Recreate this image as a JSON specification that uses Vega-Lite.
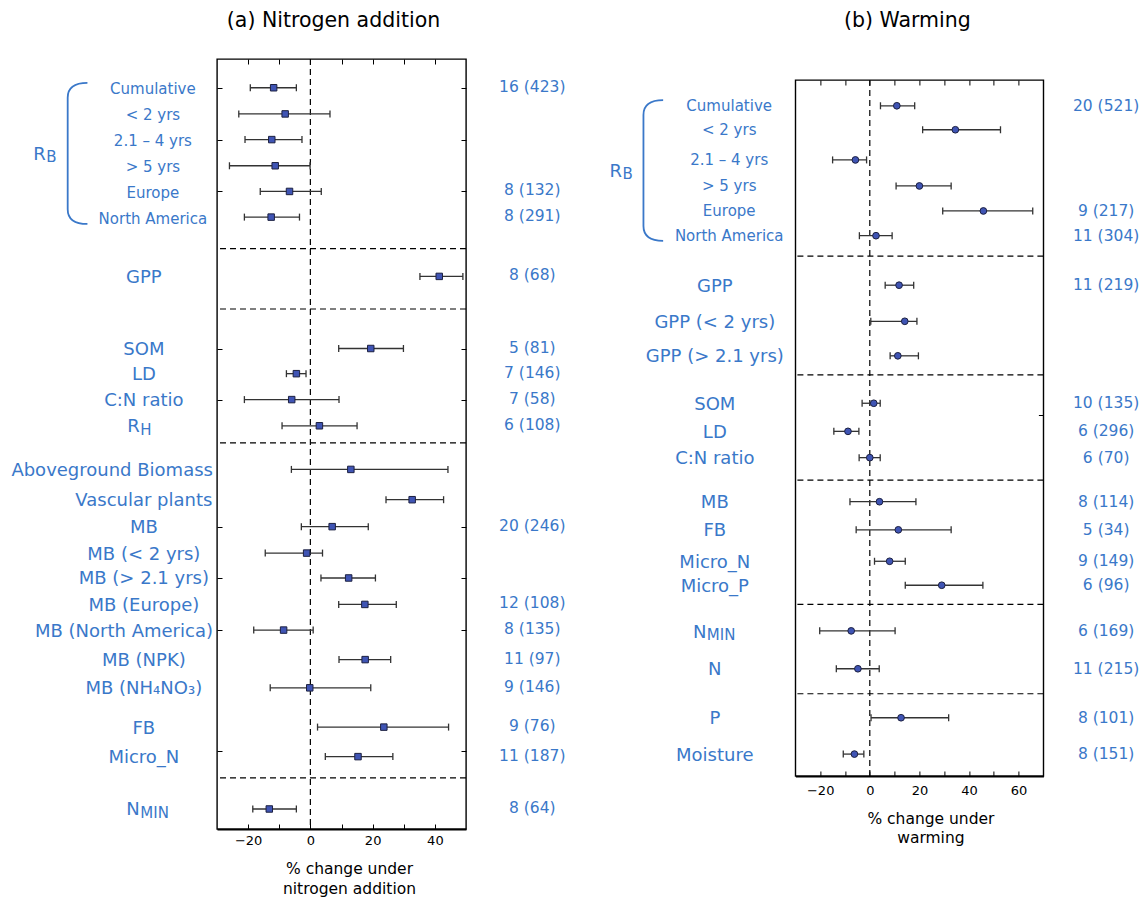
{
  "$schema": "https://vega.github.io/schema/vega-lite/v6.json",
  "background": "white",
  "padding": {"left": 10, "top": 10, "right": 2, "bottom": 5},
  "datasets": {
    "nitrogen": [
      {"label": "Cumulative", "grp": "RB", "pos": 1.12, "mean": -11.8, "lo": -19.3, "hi": -4.5, "n": "16 (423)"},
      {"label": "< 2 yrs", "grp": "RB", "pos": 2.14, "mean": -8.1, "lo": -23.0, "hi": 6.3},
      {"label": "2.1 – 4 yrs", "grp": "RB", "pos": 3.14, "mean": -12.4, "lo": -21.0, "hi": -2.7},
      {"label": "> 5 yrs", "grp": "RB", "pos": 4.16, "mean": -11.3, "lo": -26.0, "hi": -0.1},
      {"label": "Europe", "grp": "RB", "pos": 5.16, "mean": -6.7, "lo": -16.1, "hi": 3.5, "n": "8 (132)"},
      {"label": "North America", "grp": "RB", "pos": 6.16, "mean": -12.6, "lo": -21.2, "hi": -3.5, "n": "8 (291)"},
      {"label": "GPP", "pos": 8.47, "mean": 41.4, "lo": 35.2, "hi": 49.0, "n": "8 (68)"},
      {"label": "SOM", "pos": 11.28, "mean": 19.4, "lo": 9.1, "hi": 29.9, "n": "5 (81)"},
      {"label": "LD", "pos": 12.26, "mean": -4.5, "lo": -7.7, "hi": -1.4, "n": "7 (146)"},
      {"label": "C:N ratio", "pos": 13.27, "mean": -6.0, "lo": -21.2, "hi": 9.2, "n": "7 (58)"},
      {"label": "R", "sub": "H", "pos": 14.29, "mean": 2.9, "lo": -9.1, "hi": 15.0, "n": "6 (108)"},
      {"label": "Aboveground Biomass", "pos": 15.99, "mean": 13.0, "lo": -6.1, "hi": 44.2},
      {"label": "Vascular plants", "pos": 17.17, "mean": 32.7, "lo": 24.3, "hi": 42.8},
      {"label": "MB", "pos": 18.22, "mean": 7.0, "lo": -2.9, "hi": 18.6, "n": "20 (246)"},
      {"label": "MB (< 2 yrs)", "pos": 19.25, "mean": -1.2, "lo": -14.5, "hi": 3.9},
      {"label": "MB (> 2.1 yrs)", "pos": 20.22, "mean": 12.3, "lo": 3.4, "hi": 20.9},
      {"label": "MB (Europe)", "pos": 21.25, "mean": 17.5, "lo": 9.1, "hi": 27.6, "n": "12 (108)"},
      {"label": "MB (North America)", "pos": 22.25, "mean": -8.6, "lo": -18.2, "hi": 0.9, "n": "8 (135)"},
      {"label": "MB (NPK)", "pos": 23.4, "mean": 17.6, "lo": 9.2, "hi": 25.8, "n": "11 (97)"},
      {"label": "MB (NH₄NO₃)", "pos": 24.5, "mean": -0.2, "lo": -12.9, "hi": 19.4, "n": "9 (146)"},
      {"label": "FB", "pos": 26.03, "mean": 23.6, "lo": 2.3, "hi": 44.4, "n": "9 (76)"},
      {"label": "Micro_N", "pos": 27.18, "mean": 15.3, "lo": 4.8, "hi": 26.5, "n": "11 (187)"},
      {"label": "N", "sub": "MIN", "pos": 29.22, "mean": -13.2, "lo": -18.5, "hi": -4.5, "n": "8 (64)"}
    ],
    "warming": [
      {"label": "Cumulative", "grp": "RB", "pos": 1.0, "mean": 10.9, "lo": 4.3, "hi": 18.1, "n": "20 (521)"},
      {"label": "< 2 yrs", "grp": "RB", "pos": 1.93, "mean": 34.5, "lo": 21.3, "hi": 52.7},
      {"label": "2.1 – 4 yrs", "grp": "RB", "pos": 3.1, "mean": -5.8, "lo": -15.0, "hi": -1.3},
      {"label": "> 5 yrs", "grp": "RB", "pos": 4.11, "mean": 20.0, "lo": 10.6, "hi": 32.8},
      {"label": "Europe", "grp": "RB", "pos": 5.08, "mean": 45.8, "lo": 29.4, "hi": 65.7, "n": "9 (217)"},
      {"label": "North America", "grp": "RB", "pos": 6.04, "mean": 2.5, "lo": -4.2, "hi": 9.0, "n": "11 (304)"},
      {"label": "GPP", "pos": 7.96, "mean": 11.8, "lo": 6.2, "hi": 17.7, "n": "11 (219)"},
      {"label": "GPP (< 2 yrs)", "pos": 9.36, "mean": 14.1, "lo": 0.4, "hi": 19.0},
      {"label": "GPP (> 2.1 yrs)", "pos": 10.7, "mean": 11.3, "lo": 8.2, "hi": 19.6},
      {"label": "SOM", "pos": 12.54, "mean": 1.6, "lo": -3.1, "hi": 4.2, "n": "10 (135)"},
      {"label": "LD", "pos": 13.63, "mean": -8.8, "lo": -14.5, "hi": -4.4, "n": "6 (296)"},
      {"label": "C:N ratio", "pos": 14.65, "mean": 0.0, "lo": -4.3, "hi": 4.2, "n": "6 (70)"},
      {"label": "MB", "pos": 16.36, "mean": 3.9, "lo": -8.0, "hi": 18.6, "n": "8 (114)"},
      {"label": "FB", "pos": 17.45, "mean": 11.5, "lo": -5.5, "hi": 32.8, "n": "5 (34)"},
      {"label": "Micro_N", "pos": 18.67, "mean": 8.0, "lo": 1.9, "hi": 14.3, "n": "9 (149)"},
      {"label": "Micro_P", "pos": 19.6, "mean": 29.0, "lo": 14.3, "hi": 45.6, "n": "6 (96)"},
      {"label": "N", "sub": "MIN", "pos": 21.37, "mean": -7.5, "lo": -20.2, "hi": 10.2, "n": "6 (169)"},
      {"label": "N", "pos": 22.84, "mean": -4.8, "lo": -13.5, "hi": 3.8, "n": "11 (215)"},
      {"label": "P", "pos": 24.74, "mean": 12.6, "lo": 0.5, "hi": 31.8, "n": "8 (101)"},
      {"label": "Moisture", "pos": 26.15, "mean": -6.2, "lo": -10.7, "hi": -2.4, "n": "8 (151)"}
    ],
    "nsep": [{"pos": 7.39}, {"pos": 9.74}, {"pos": 14.96}, {"pos": 28.01}],
    "wsep": [{"pos": 6.83}, {"pos": 11.44}, {"pos": 15.52}, {"pos": 20.34}, {"pos": 23.81}],
    "ngroup": [{"label": "R", "sub": "B", "pos": 3.68}],
    "wgroup": [{"label": "R", "sub": "B", "pos": 3.51}],
    "ref": [{"ref": 0}]
  },
  "hconcat": [
    {
      "width": 249,
      "height": 770,
      "title": {"text": "(a) Nitrogen addition", "fontSize": 20.5, "fontWeight": "normal", "baseline": "alphabetic", "offset": 11, "dx": -8, "color": "black", "font": "DejaVu Sans"},
      "layer": [
        {
          "data": {"name": "ref"},
          "mark": {"type": "rule", "strokeDash": [6, 4], "color": "black", "strokeWidth": 1.2},
          "encoding": {
            "x": {"field": "ref", "type": "quantitative", "scale": {"domain": [-30, 50], "nice": false, "zero": false},
              "axis": {"orient": "bottom", "values": [-20, -10, 0, 10, 20, 30, 40], "labelExpr": "datum.value % 20 === 0 ? datum.label : ''", "tickSize": -5, "tickColor": "black", "tickWidth": 1, "labelPadding": 10, "labelFontSize": 13, "labelColor": "black", "domainColor": "black", "domainWidth": 2, "grid": false, "title": ["% change under", "nitrogen addition"], "titleFontSize": 15.5, "titleFontWeight": "normal", "titleColor": "black", "titlePadding": 14, "titleLineHeight": 20, "titleX": 132, "titleAlign": "center"}}
          }
        },
        {
          "data": {"name": "nsep"},
          "mark": {"type": "rule", "strokeDash": [6, 4], "color": "black", "strokeWidth": 1.2},
          "encoding": {
            "y": {"field": "pos", "type": "quantitative", "scale": {"domain": [0, 30], "reverse": true, "nice": false, "zero": false},
              "axis": {"orient": "left", "values": [1.12, 3.14, 5.16, 11.28, 13.27, 18.22, 20.22, 22.25, 26.98], "labels": false, "tickSize": -5, "tickColor": "black", "domain": false, "grid": false, "title": null}}
          }
        },
        {
          "data": {"name": "nitrogen"},
          "mark": {"type": "rule", "color": "#333333", "strokeWidth": 1.3},
          "encoding": {
            "x": {"field": "lo", "type": "quantitative", "axis": {"orient": "top", "values": [-20, -10, 0, 10, 20, 30, 40], "labels": false, "tickSize": -5, "tickColor": "black", "domain": false, "grid": false, "title": null}},
            "x2": {"field": "hi"},
            "y": {"field": "pos", "type": "quantitative", "axis": {"orient": "right", "values": [1.12, 3.14, 5.16, 11.28, 13.27, 18.22, 20.22, 22.25, 26.98], "labels": false, "tickSize": -5, "tickColor": "black", "domain": false, "grid": false, "title": null}}
          }
        },
        {
          "data": {"name": "nitrogen"},
          "mark": {"type": "point", "shape": "M0,-1L0,1", "filled": false, "stroke": "#333333", "strokeWidth": 1.3, "size": 49, "opacity": 1},
          "encoding": {"x": {"field": "lo", "type": "quantitative", "axis": null}, "y": {"field": "pos", "type": "quantitative", "axis": null}}
        },
        {
          "data": {"name": "nitrogen"},
          "mark": {"type": "point", "shape": "M0,-1L0,1", "filled": false, "stroke": "#333333", "strokeWidth": 1.3, "size": 49, "opacity": 1},
          "encoding": {"x": {"field": "hi", "type": "quantitative", "axis": null}, "y": {"field": "pos", "type": "quantitative", "axis": null}}
        },
        {
          "data": {"name": "nitrogen"},
          "mark": {"type": "point", "shape": "square", "filled": true, "fill": "#3f54b4", "stroke": "#1c2040", "strokeWidth": 1, "size": 42, "opacity": 1},
          "encoding": {"x": {"field": "mean", "type": "quantitative", "axis": null}, "y": {"field": "pos", "type": "quantitative", "axis": null}}
        },
        {
          "data": {"name": "nitrogen"},
          "transform": [{"filter": "datum.grp === 'RB'"}],
          "mark": {"type": "text", "align": "center", "baseline": "middle", "dy": 1.5, "fontSize": 15, "color": "#3a78c9", "font": "DejaVu Sans"},
          "encoding": {"x": {"datum": -50.6, "type": "quantitative", "axis": null}, "y": {"field": "pos", "type": "quantitative", "axis": null}, "text": {"field": "label"}}
        },
        {
          "data": {"name": "nitrogen"},
          "transform": [{"filter": "datum.grp !== 'RB' && !datum.sub && datum.label !== 'Aboveground Biomass' && datum.label !== 'MB (North America)'"}],
          "mark": {"type": "text", "align": "center", "baseline": "middle", "dy": 1.5, "fontSize": 18, "color": "#3a78c9", "font": "DejaVu Sans"},
          "encoding": {"x": {"datum": -53.5, "type": "quantitative", "axis": null}, "y": {"field": "pos", "type": "quantitative", "axis": null}, "text": {"field": "label"}}
        },
        {
          "data": {"name": "nitrogen"},
          "transform": [{"filter": "datum.label === 'Aboveground Biomass' || datum.label === 'MB (North America)'"}],
          "mark": {"type": "text", "align": "right", "baseline": "middle", "dy": 1.5, "fontSize": 18, "color": "#3a78c9", "font": "DejaVu Sans"},
          "encoding": {"x": {"datum": -31.3, "type": "quantitative", "axis": null}, "y": {"field": "pos", "type": "quantitative", "axis": null}, "text": {"field": "label"}}
        },
        {
          "data": {"name": "nitrogen"},
          "transform": [{"filter": "datum.sub"}],
          "mark": {"type": "text", "align": "right", "baseline": "alphabetic", "dy": 6.5, "fontSize": 18, "color": "#3a78c9", "font": "DejaVu Sans"},
          "encoding": {"x": {"datum": -54.8, "type": "quantitative", "axis": null}, "y": {"field": "pos", "type": "quantitative", "axis": null}, "text": {"field": "label"}}
        },
        {
          "data": {"name": "nitrogen"},
          "transform": [{"filter": "datum.sub"}],
          "mark": {"type": "text", "align": "left", "baseline": "alphabetic", "dy": 9, "dx": 0.5, "fontSize": 15, "color": "#3a78c9", "font": "DejaVu Sans"},
          "encoding": {"x": {"datum": -54.8, "type": "quantitative", "axis": null}, "y": {"field": "pos", "type": "quantitative", "axis": null}, "text": {"field": "sub"}}
        },
        {
          "data": {"name": "nitrogen"},
          "transform": [{"filter": "datum.n"}],
          "mark": {"type": "text", "align": "center", "baseline": "middle", "dy": -1, "fontSize": 15.5, "color": "#3a78c9", "font": "DejaVu Sans"},
          "encoding": {"x": {"datum": 71.3, "type": "quantitative", "axis": null}, "y": {"field": "pos", "type": "quantitative", "axis": null}, "text": {"field": "n"}}
        },
        {
          "data": {"name": "ngroup"},
          "mark": {"type": "text", "align": "right", "baseline": "alphabetic", "dy": 6.5, "fontSize": 18, "color": "#3a78c9", "font": "DejaVu Sans"},
          "encoding": {"x": {"datum": -85, "type": "quantitative", "axis": null}, "y": {"field": "pos", "type": "quantitative", "axis": null}, "text": {"field": "label"}}
        },
        {
          "data": {"name": "ngroup"},
          "mark": {"type": "text", "align": "left", "baseline": "alphabetic", "dy": 9, "dx": 0.5, "fontSize": 15, "color": "#3a78c9", "font": "DejaVu Sans"},
          "encoding": {"x": {"datum": -85, "type": "quantitative", "axis": null}, "y": {"field": "pos", "type": "quantitative", "axis": null}, "text": {"field": "sub"}}
        },
        {
          "data": {"name": "ngroup"},
          "mark": {"type": "point", "shape": "M0.14,-1C-0.06,-1,-0.14,-0.92,-0.14,-0.79L-0.14,0.79C-0.14,0.92,-0.06,1,0.14,1", "filled": false, "stroke": "#3a78c9", "strokeWidth": 1.8, "size": 19881, "opacity": 1},
          "encoding": {"x": {"datum": -74.8, "type": "quantitative", "axis": null}, "y": {"field": "pos", "type": "quantitative", "axis": null}}
        }
      ],
      "resolve": {"axis": {"x": "independent", "y": "independent"}}
    },
    {
      "vconcat": [
        {
          "width": 248,
          "height": 20.7,
          "data": {"values": []},
          "mark": "point",
          "view": {"stroke": null}
        },
        {
          "width": 248,
          "height": 696,
          "title": {"text": "(b) Warming", "fontSize": 20.5, "fontWeight": "normal", "baseline": "alphabetic", "offset": 32, "dx": -12, "color": "black", "font": "DejaVu Sans"},
          "layer": [
            {
              "data": {"name": "ref"},
              "mark": {"type": "rule", "strokeDash": [6, 4], "color": "black", "strokeWidth": 1.2},
              "encoding": {
                "x": {"field": "ref", "type": "quantitative", "scale": {"domain": [-30, 70], "nice": false, "zero": false},
                  "axis": {"orient": "bottom", "values": [-20, -10, 0, 10, 20, 30, 40, 50, 60], "labelExpr": "datum.value % 20 === 0 ? datum.label : ''", "tickSize": -5, "tickColor": "black", "tickWidth": 1, "labelPadding": 13, "labelFontSize": 13, "labelColor": "black", "domainColor": "black", "domainWidth": 2, "grid": false, "title": ["% change under", "warming"], "titleFontSize": 15.5, "titleFontWeight": "normal", "titleColor": "black", "titlePadding": 14, "titleLineHeight": 19.5, "titleX": 135, "titleAlign": "center"}}
              }
            },
            {
              "data": {"name": "wsep"},
              "mark": {"type": "rule", "strokeDash": [6, 4], "color": "black", "strokeWidth": 1.2},
              "encoding": {
                "y": {"field": "pos", "type": "quantitative", "scale": {"domain": [0, 27], "reverse": true, "nice": false, "zero": false}, "axis": null}
              }
            },
            {
              "data": {"name": "warming"},
              "mark": {"type": "rule", "color": "#333333", "strokeWidth": 1.3},
              "encoding": {
                "x": {"field": "lo", "type": "quantitative", "axis": {"orient": "top", "values": [-20, -10, 0, 10, 20, 30, 40, 50, 60], "labels": false, "tickSize": -5, "tickColor": "black", "domain": false, "grid": false, "title": null}},
                "x2": {"field": "hi"},
                "y": {"field": "pos", "type": "quantitative", "axis": {"orient": "right", "values": [13.0], "labels": false, "tickSize": -5, "tickColor": "black", "domain": false, "grid": false, "title": null}}
              }
            },
            {
              "data": {"name": "warming"},
              "mark": {"type": "point", "shape": "M0,-1L0,1", "filled": false, "stroke": "#333333", "strokeWidth": 1.3, "size": 49, "opacity": 1},
              "encoding": {"x": {"field": "lo", "type": "quantitative", "axis": null}, "y": {"field": "pos", "type": "quantitative", "axis": null}}
            },
            {
              "data": {"name": "warming"},
              "mark": {"type": "point", "shape": "M0,-1L0,1", "filled": false, "stroke": "#333333", "strokeWidth": 1.3, "size": 49, "opacity": 1},
              "encoding": {"x": {"field": "hi", "type": "quantitative", "axis": null}, "y": {"field": "pos", "type": "quantitative", "axis": null}}
            },
            {
              "data": {"name": "warming"},
              "mark": {"type": "point", "shape": "circle", "filled": true, "fill": "#3f54b4", "stroke": "#1c2040", "strokeWidth": 1, "size": 45, "opacity": 1},
              "encoding": {"x": {"field": "mean", "type": "quantitative", "axis": null}, "y": {"field": "pos", "type": "quantitative", "axis": null}}
            },
            {
              "data": {"name": "warming"},
              "transform": [{"filter": "datum.grp === 'RB'"}],
              "mark": {"type": "text", "align": "center", "baseline": "middle", "dy": 0.5, "fontSize": 15, "color": "#3a78c9", "font": "DejaVu Sans"},
              "encoding": {"x": {"datum": -56.7, "type": "quantitative", "axis": null}, "y": {"field": "pos", "type": "quantitative", "axis": null}, "text": {"field": "label"}}
            },
            {
              "data": {"name": "warming"},
              "transform": [{"filter": "datum.grp !== 'RB' && !datum.sub"}],
              "mark": {"type": "text", "align": "center", "baseline": "middle", "dy": 1.5, "fontSize": 18, "color": "#3a78c9", "font": "DejaVu Sans"},
              "encoding": {"x": {"datum": -62.5, "type": "quantitative", "axis": null}, "y": {"field": "pos", "type": "quantitative", "axis": null}, "text": {"field": "label"}}
            },
            {
              "data": {"name": "warming"},
              "transform": [{"filter": "datum.sub"}],
              "mark": {"type": "text", "align": "right", "baseline": "alphabetic", "dy": 7, "fontSize": 18, "color": "#3a78c9", "font": "DejaVu Sans"},
              "encoding": {"x": {"datum": -65.9, "type": "quantitative", "axis": null}, "y": {"field": "pos", "type": "quantitative", "axis": null}, "text": {"field": "label"}}
            },
            {
              "data": {"name": "warming"},
              "transform": [{"filter": "datum.sub"}],
              "mark": {"type": "text", "align": "left", "baseline": "alphabetic", "dy": 9.5, "dx": 0.5, "fontSize": 15, "color": "#3a78c9", "font": "DejaVu Sans"},
              "encoding": {"x": {"datum": -65.9, "type": "quantitative", "axis": null}, "y": {"field": "pos", "type": "quantitative", "axis": null}, "text": {"field": "sub"}}
            },
            {
              "data": {"name": "warming"},
              "transform": [{"filter": "datum.n"}],
              "mark": {"type": "text", "align": "center", "baseline": "middle", "dy": 0, "fontSize": 15.5, "color": "#3a78c9", "font": "DejaVu Sans"},
              "encoding": {"x": {"datum": 95.3, "type": "quantitative", "axis": null}, "y": {"field": "pos", "type": "quantitative", "axis": null}, "text": {"field": "n"}}
            },
            {
              "data": {"name": "wgroup"},
              "mark": {"type": "text", "align": "right", "baseline": "alphabetic", "dy": 6.2, "fontSize": 18, "color": "#3a78c9", "font": "DejaVu Sans"},
              "encoding": {"x": {"datum": -99.9, "type": "quantitative", "axis": null}, "y": {"field": "pos", "type": "quantitative", "axis": null}, "text": {"field": "label"}}
            },
            {
              "data": {"name": "wgroup"},
              "mark": {"type": "text", "align": "left", "baseline": "alphabetic", "dy": 8.5, "dx": 0.5, "fontSize": 15, "color": "#3a78c9", "font": "DejaVu Sans"},
              "encoding": {"x": {"datum": -99.9, "type": "quantitative", "axis": null}, "y": {"field": "pos", "type": "quantitative", "axis": null}, "text": {"field": "sub"}}
            },
            {
              "data": {"name": "wgroup"},
              "mark": {"type": "point", "shape": "M0.14,-1C-0.06,-1,-0.14,-0.92,-0.14,-0.79L-0.14,0.79C-0.14,0.92,-0.06,1,0.14,1", "filled": false, "stroke": "#3a78c9", "strokeWidth": 1.8, "size": 19770, "opacity": 1},
              "encoding": {"x": {"datum": -87.3, "type": "quantitative", "axis": null}, "y": {"field": "pos", "type": "quantitative", "axis": null}}
            }
          ],
          "resolve": {"axis": {"x": "independent", "y": "independent"}}
        }
      ],
      "spacing": 0,
      "bounds": "flush"
    }
  ],
  "spacing": 329.4,
  "bounds": "flush",
  "config": {
    "font": "DejaVu Sans",
    "view": {"stroke": "black", "strokeWidth": 1.4},
    "axis": {"labelFont": "DejaVu Sans", "titleFont": "DejaVu Sans"}
  }
}
